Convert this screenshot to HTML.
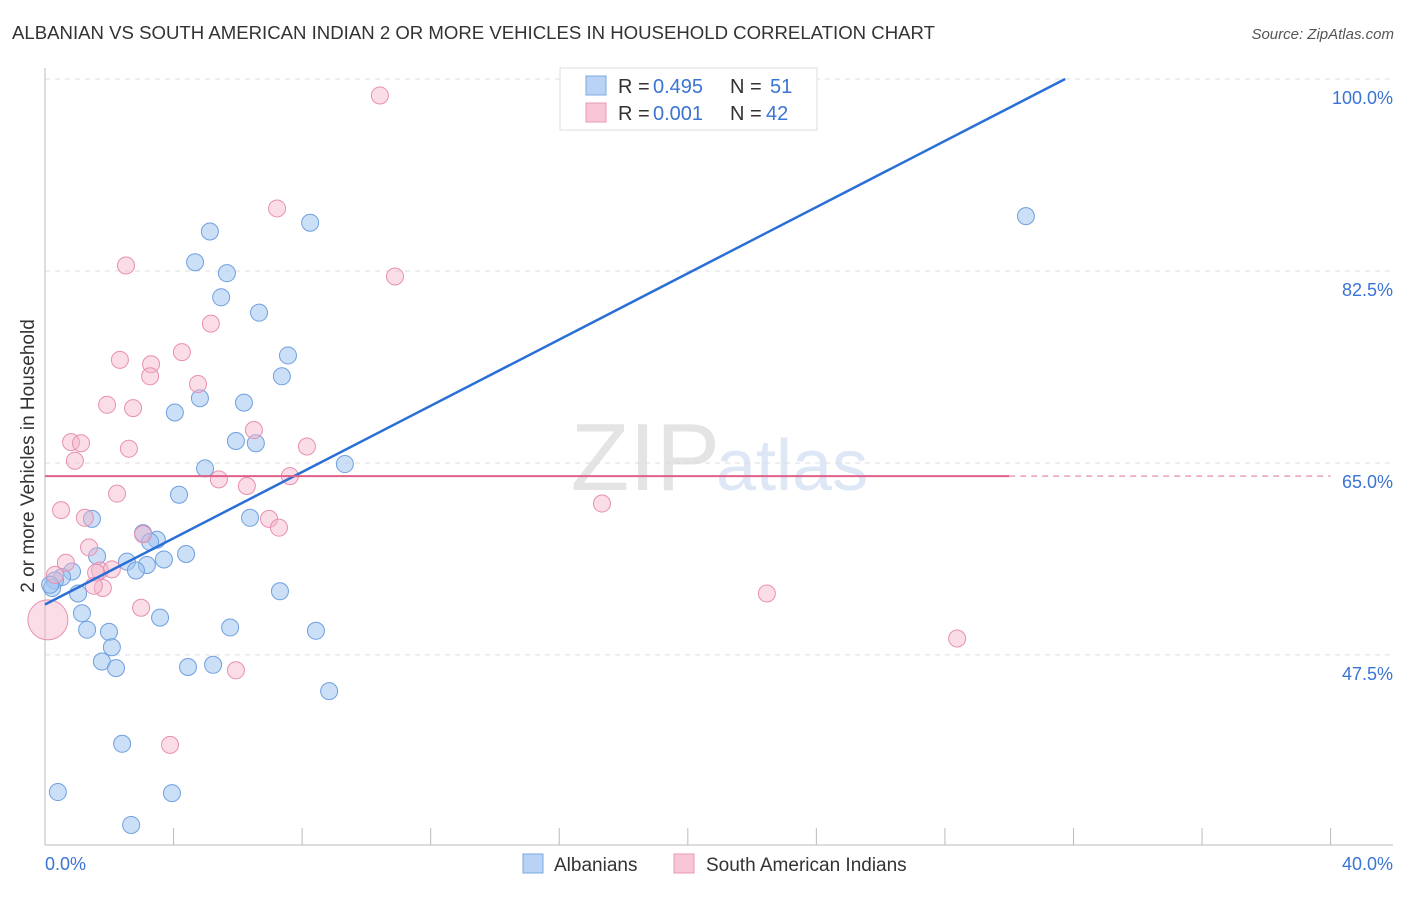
<!DOCTYPE html>
<html><head><meta charset="utf-8"><style>
body{margin:0;background:#fff;font-family:"Liberation Sans",sans-serif;}
svg text{font-family:"Liberation Sans",sans-serif;}
</style></head><body>
<svg id="chart" width="1406" height="892" xmlns="http://www.w3.org/2000/svg">
<text x="12" y="39" font-size="18.6" fill="#333">ALBANIAN VS SOUTH AMERICAN INDIAN 2 OR MORE VEHICLES IN HOUSEHOLD CORRELATION CHART</text>
<text x="1394" y="39" font-size="15" fill="#555" font-style="italic" text-anchor="end">Source: ZipAtlas.com</text>
<text x="720" y="490" font-size="96" fill="#e4e4e4" font-family="Liberation Serif" text-anchor="end">ZIP</text>
<text x="716" y="490" font-size="72" fill="#dde7f5">atlas</text>
<g id="grid"></g>
<g id="axes"></g>
<g id="points"></g>
<g id="lines"></g>
<text transform="translate(34,456) rotate(-90)" font-size="19" fill="#333" text-anchor="middle">2 or more Vehicles in Household</text>
<g>
<rect x="560" y="68" width="257" height="62" fill="#fff" stroke="#ddd"/>
<rect x="586" y="76" width="20" height="19" fill="#b8d3f5" stroke="#7aa8e0"/>
<text x="618" y="93" font-size="20" fill="#333">R =</text>
<text x="653" y="93" font-size="20" fill="#3a74d4">0.495</text>
<text x="730" y="93" font-size="20" fill="#333">N =</text>
<text x="770" y="93" font-size="20" fill="#3a74d4">51</text>
<rect x="586" y="103" width="20" height="19" fill="#f8c6d6" stroke="#e899b4"/>
<text x="618" y="120" font-size="20" fill="#333">R =</text>
<text x="653" y="120" font-size="20" fill="#3a74d4">0.001</text>
<text x="730" y="120" font-size="20" fill="#333">N =</text>
<text x="766" y="120" font-size="20" fill="#3a74d4">42</text>
</g>
<g>
<rect x="523" y="854" width="20" height="19" fill="#b8d3f5" stroke="#7aa8e0"/>
<text x="554" y="871" font-size="19" fill="#333">Albanians</text>
<rect x="674" y="854" width="20" height="19" fill="#f8c6d6" stroke="#e899b4"/>
<text x="706" y="871" font-size="19" fill="#333">South American Indians</text>
</g>
</svg>
<script>
const blueX=[30.52,8.25,5.13,4.67,5.66,5.48,6.66,7.56,7.37,4.82,6.19,4.04,5.94,6.56,9.33,4.98,4.17,6.38,1.46,3.05,3.48,3.27,1.62,2.55,4.39,3.70,3.17,2.83,0.84,0.53,0.31,0.22,1.03,7.31,1.15,3.58,1.31,5.76,8.43,1.99,2.08,1.77,2.21,4.45,5.23,8.84,2.40,0.40,3.95,2.68,0.16];
const blueY=[87.5,86.9,86.1,83.3,82.3,80.1,78.7,74.8,72.9,70.9,70.5,69.6,67.0,66.8,64.9,64.5,62.1,60.0,59.9,58.6,58.0,57.8,56.5,56.0,56.7,56.2,55.7,55.2,55.1,54.6,54.3,53.6,53.1,53.3,51.3,50.9,49.8,50.0,49.7,49.6,48.2,46.9,46.3,46.4,46.6,44.2,39.4,35.0,34.9,32.0,53.9];
const pinkX=[10.42,7.22,10.89,2.52,5.16,4.26,2.33,3.30,3.27,4.76,1.93,2.74,0.81,1.12,0.93,2.61,6.50,8.15,5.41,6.28,7.62,2.24,0.50,1.24,6.97,7.28,3.05,1.37,0.65,1.71,2.08,1.59,1.80,1.52,2.99,17.33,22.46,28.38,5.94,3.89,0.09,0.31];
const pinkY=[98.5,88.2,82.0,83.0,77.7,75.1,74.4,74.0,72.9,72.2,70.3,70.0,66.9,66.8,65.2,66.3,68.0,66.5,63.5,62.9,63.8,62.2,60.7,60.0,59.9,59.1,58.5,57.3,55.9,55.2,55.3,55.0,53.6,53.8,51.8,61.3,53.1,49.0,46.1,39.3,50.7,54.8];
const blueTrend=[0,52.1,31.74,100];
const pinkTrend=[0,63.8,30.0,63.8,40,63.8];
const yTicks=[100,82.5,65,47.5];
const xTickCount=10;
const NS="http://www.w3.org/2000/svg";
const sx=v=>45+v*32.14;
const sy=v=>79+(100-v)*10.97;
function mk(tag,attrs,parent){const e=document.createElementNS(NS,tag);for(const k in attrs)e.setAttribute(k,attrs[k]);parent.appendChild(e);return e;}
const grid=document.getElementById('grid'),axes=document.getElementById('axes'),pts=document.getElementById('points'),lines=document.getElementById('lines');
yTicks.forEach(t=>{
 const l=mk('line',{x1:45,x2:1393,y1:sy(t),y2:sy(t),stroke:'#ddd','stroke-dasharray':'5,5'},grid);
 
 
 const tx=mk('text',{x:1393,y:sy(t)+25,'font-size':18,fill:'#3a74d4','text-anchor':'end'},grid);
 tx.textContent=t.toFixed(1)+'%';
 
 
});
mk('line',{x1:45,x2:45,y1:68,y2:845,stroke:'#bbb'},axes);
mk('line',{x1:45,x2:1393,y1:845,y2:845,stroke:'#bbb'},axes);
for(let i=1;i<=xTickCount;i++){
 const t=mk('line',{x1:sx(i*4),x2:sx(i*4),y1:828,y2:845,stroke:'#bbb'},axes);
 
 
}
const x0=mk('text',{x:45,y:870,'font-size':18,fill:'#3a74d4'},axes);x0.textContent='0.0%';


const x1=mk('text',{x:1393,y:870,'font-size':18,fill:'#3a74d4','text-anchor':'end'},axes);x1.textContent='40.0%';


blueX.forEach((x,i)=>{
 const c=mk('circle',{cx:sx(x),cy:sy(blueY[i]),r:8.5,fill:'rgba(160,196,240,0.55)',stroke:'#6fa0e0','stroke-width':1},pts);
 
 
});
pinkX.forEach((x,i)=>{
 const big=(i===40);
 const c=mk('circle',{cx:sx(x),cy:sy(pinkY[i]),r:big?20:8.5,fill:'rgba(245,180,202,0.45)',stroke:'#e890b0','stroke-width':1},pts);
 
 
});
const bl=mk('line',{x1:sx(blueTrend[0]),y1:sy(blueTrend[1]),x2:sx(blueTrend[2]),y2:sy(blueTrend[3]),stroke:'#2a6fd6','stroke-width':2.5},lines);


const pl=mk('line',{x1:sx(pinkTrend[0]),y1:sy(pinkTrend[1]),x2:sx(pinkTrend[2]),y2:sy(pinkTrend[3]),stroke:'#e0608a','stroke-width':2},lines);


const pd=mk('line',{x1:sx(pinkTrend[2]),y1:sy(pinkTrend[3]),x2:sx(pinkTrend[4]),y2:sy(pinkTrend[5]),stroke:'#eaa0b8','stroke-width':1.5,'stroke-dasharray':'6,5'},lines);


</script>
</body></html>
